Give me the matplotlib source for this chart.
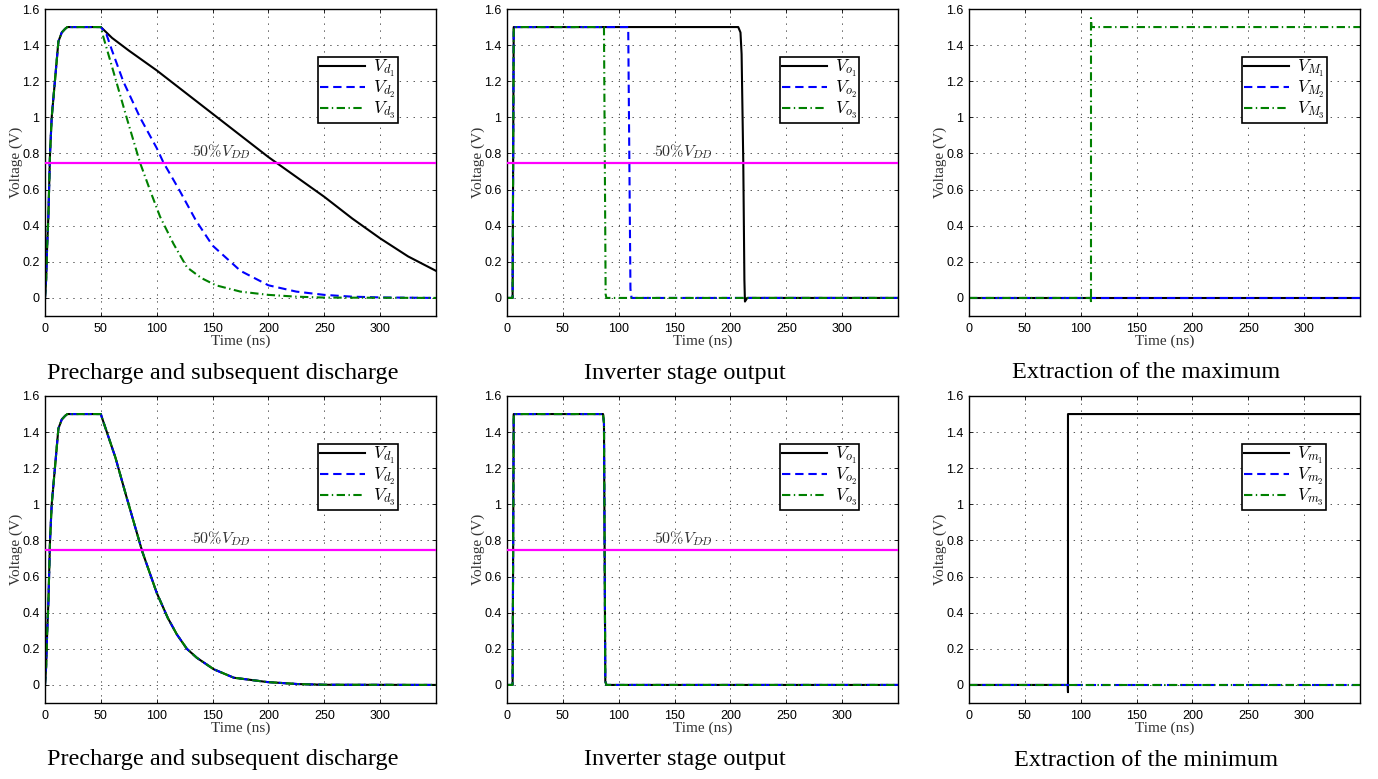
import matplotlib
matplotlib.use("Agg")
import matplotlib.pyplot as plt

plt.rcParams['mathtext.fontset'] = 'cm'
plt.rcParams['lines.scale_dashes'] = False

# ---------------- data ----------------
# Top-left: precharge and discharge
t_d1_a = [0, 1, 2, 3, 4.5, 6, 9, 12, 15, 18, 20, 50, 60, 75, 100, 125, 150, 175, 200, 225, 250, 275, 300, 325, 350]
v_d1_a = [0, 0.1, 0.3, 0.45, 0.8, 1.0, 1.21, 1.42, 1.47, 1.49, 1.5, 1.5, 1.44, 1.37, 1.26, 1.14, 1.02, 0.9, 0.78, 0.67, 0.56, 0.44, 0.33, 0.23, 0.15]
t_d2_a = [0, 1, 2, 3, 4.5, 6, 9, 12, 15, 18, 20, 50, 55, 60, 70, 85, 100, 106, 120, 135, 150, 175, 200, 225, 250, 275, 300, 350]
v_d2_a = [0, 0.1, 0.3, 0.45, 0.8, 1.0, 1.21, 1.42, 1.47, 1.49, 1.5, 1.5, 1.46, 1.37, 1.2, 1.0, 0.83, 0.75, 0.6, 0.43, 0.29, 0.15, 0.07, 0.035, 0.017, 0.007, 0.003, 0.0]
t_d3_a = [0, 1, 2, 3, 4.5, 6, 9, 12, 15, 18, 20, 50, 52, 60, 73, 85, 95, 103, 115, 127, 140, 153, 175, 200, 225, 250, 350]
v_d3_a = [0, 0.1, 0.3, 0.45, 0.8, 1.0, 1.21, 1.42, 1.47, 1.49, 1.5, 1.5, 1.45, 1.28, 1.0, 0.75, 0.58, 0.45, 0.3, 0.17, 0.11, 0.07, 0.035, 0.017, 0.007, 0.002, 0.0]

# Top-middle: inverter outputs
t_o1_a = [0, 5, 6, 207, 209, 210, 211.5, 212.5, 213, 215, 350]
v_o1_a = [0, 0, 1.5, 1.5, 1.47, 1.35, 0.75, 0.1, -0.02, 0.0, 0.0]
t_o2_a = [0, 5, 6, 108.5, 110.5, 111.5, 350]
v_o2_a = [0, 0, 1.5, 1.5, 0.05, 0.0, 0.0]
t_o3_a = [0, 5, 6, 86.8, 88.3, 89, 350]
v_o3_a = [0, 0, 1.5, 1.5, 0.02, 0.0, 0.0]

# Top-right: maximum extraction
t_M1 = [0, 350]
v_M1 = [0, 0]
t_M2 = [0, 350]
v_M2 = [0, 0]
t_M3 = [0, 109.0, 109.2, 109.2, 109.7, 350]
v_M3 = [0, 0, -0.03, 1.55, 1.5, 1.5]

# Bottom-left: precharge and discharge (all three coincide)
t_d_b = [0, 1, 2, 3, 4.5, 6, 9, 12, 15, 18, 20, 50, 51, 63, 73, 87, 100, 110, 118, 127, 136, 151, 169, 199, 226, 250, 350]
v_d1_b = [0, 0.1, 0.3, 0.45, 0.8, 1.0, 1.21, 1.42, 1.47, 1.49, 1.5, 1.5, 1.48, 1.26, 1.04, 0.74, 0.51, 0.37, 0.28, 0.2, 0.15, 0.087, 0.04, 0.016, 0.005, 0.001, 0.0]
v_d2_b = [0, 0.1, 0.3, 0.45, 0.8, 1.0, 1.21, 1.42, 1.47, 1.49, 1.5, 1.5, 1.48, 1.26, 1.04, 0.74, 0.51, 0.37, 0.28, 0.2, 0.15, 0.087, 0.04, 0.016, 0.005, 0.001, 0.0]
v_d3_b = [0, 0.1, 0.3, 0.45, 0.8, 1.0, 1.21, 1.42, 1.47, 1.49, 1.5, 1.5, 1.48, 1.26, 1.04, 0.74, 0.51, 0.37, 0.28, 0.2, 0.15, 0.087, 0.04, 0.016, 0.005, 0.001, 0.0]

# Bottom-middle: inverter outputs (all coincide)
t_o_b = [0, 5, 6, 86, 86.8, 88, 89, 350]
v_o1_b = [0, 0, 1.5, 1.5, 1.45, 0.02, 0.0, 0.0]
v_o2_b = [0, 0, 1.5, 1.5, 1.45, 0.02, 0.0, 0.0]
v_o3_b = [0, 0, 1.5, 1.5, 1.45, 0.02, 0.0, 0.0]

# Bottom-right: minimum extraction
t_m1 = [0, 88.4, 88.6, 88.6, 350]
v_m1 = [0, 0, -0.04, 1.5, 1.5]
t_m2 = [0, 350]
v_m2 = [0, 0]
t_m3 = [0, 350]
v_m3 = [0, 0]

vdd_half = 0.75
x_ticks = [0, 50, 100, 150, 200, 250, 300]
y_ticks = [0, 0.2, 0.4, 0.6, 0.8, 1, 1.2, 1.4, 1.6]
y_ticklabels = ['0', '0.2', '0.4', '0.6', '0.8', '1', '1.2', '1.4', '1.6']

captions = ["Precharge and subsequent discharge", "Inverter stage output", "Extraction of the maximum",
            "Precharge and subsequent discharge", "Inverter stage output", "Extraction of the minimum"]

# ---------------- styling ----------------
W, H = 1378, 779
fig = plt.figure(figsize=(W / 100, H / 100), dpi=100)

col_left = [45, 507, 969]
col_w = 391
row_top = [9, 396]
row_h = 307

styles = [dict(color='black', linestyle='-'),
          dict(color='#0000ff', linestyle=(0, (6, 3.5))),
          dict(color='#008000', linestyle=(0, (6, 2.5, 1, 2.5)))]
LW = 1.5
sans = ['Liberation Sans', 'DejaVu Sans']
serif = ['Liberation Serif', 'DejaVu Serif']

panels = [
    [(t_d1_a, v_d1_a), (t_d2_a, v_d2_a), (t_d3_a, v_d3_a)],
    [(t_o1_a, v_o1_a), (t_o2_a, v_o2_a), (t_o3_a, v_o3_a)],
    [(t_M1, v_M1), (t_M2, v_M2), (t_M3, v_M3)],
    [(t_d_b, v_d1_b), (t_d_b, v_d2_b), (t_d_b, v_d3_b)],
    [(t_o_b, v_o1_b), (t_o_b, v_o2_b), (t_o_b, v_o3_b)],
    [(t_m1, v_m1), (t_m2, v_m2), (t_m3, v_m3)],
]
labels = [
    [r'$V_{d_1}$', r'$V_{d_2}$', r'$V_{d_3}$'],
    [r'$V_{o_1}$', r'$V_{o_2}$', r'$V_{o_3}$'],
    [r'$V_{M_1}$', r'$V_{M_2}$', r'$V_{M_3}$'],
    [r'$V_{d_1}$', r'$V_{d_2}$', r'$V_{d_3}$'],
    [r'$V_{o_1}$', r'$V_{o_2}$', r'$V_{o_3}$'],
    [r'$V_{m_1}$', r'$V_{m_2}$', r'$V_{m_3}$'],
]
show_vdd = [True, True, False, True, True, False]

for i in range(6):
    r, c = divmod(i, 3)
    left = col_left[c] / W
    bottom = (H - row_top[r] - row_h) / H
    ax = fig.add_axes([left, bottom, col_w / W, row_h / H])
    for (t, v), st, lab in zip(panels[i], styles, labels[i]):
        ax.plot(t, v, lw=LW, label=lab, **st)
    if show_vdd[i]:
        ax.axhline(vdd_half, color='#ff00ff', lw=1.6, zorder=3)
        ax.text(132, 0.757, r'$50\%V_{DD}$', fontsize=11.5, color='#333333', ha='left', va='bottom')
    ax.set_xlim(0, 350)
    ax.set_ylim(-0.1, 1.6)
    ax.set_xticks(x_ticks)
    ax.set_xticklabels([str(x) for x in x_ticks], fontfamily=sans, fontsize=9)
    ax.set_yticks(y_ticks)
    ax.set_yticklabels(y_ticklabels, fontfamily=sans, fontsize=9)
    ax.tick_params(direction='in', length=3, width=0.6, top=True, right=True, pad=4, colors='black')
    ax.tick_params(axis='x', pad=5)
    ax.grid(True, linestyle=(0, (1, 4)), color='#555555', lw=0.7)
    for sp in ax.spines.values():
        sp.set_linewidth(1.0)
        sp.set_color('black')
    ax.set_xlabel('Time (ns)', fontfamily=serif, fontsize=11, color='#333333', labelpad=0)
    ax.set_ylabel('Voltage (V)', fontfamily=serif, fontsize=11, color='#333333', labelpad=-1)
    leg = ax.legend(loc='upper left', bbox_to_anchor=(0.698, 0.845), fontsize=12.5, frameon=True,
                    fancybox=False, framealpha=1, edgecolor='black', handlelength=2.6,
                    handletextpad=0.5, borderpad=0.1, labelspacing=0.0, borderaxespad=0)
    leg.get_frame().set_linewidth(1.2)
    cap_y = (row_top[r] + row_h + 57)
    fig.text((col_left[c] + col_w / 2 - 18) / W, 1 - cap_y / H, captions[i], fontfamily=serif,
             fontsize=17.5, ha='center', va='center', color='black')

fig.savefig('out.png', dpi=100)
